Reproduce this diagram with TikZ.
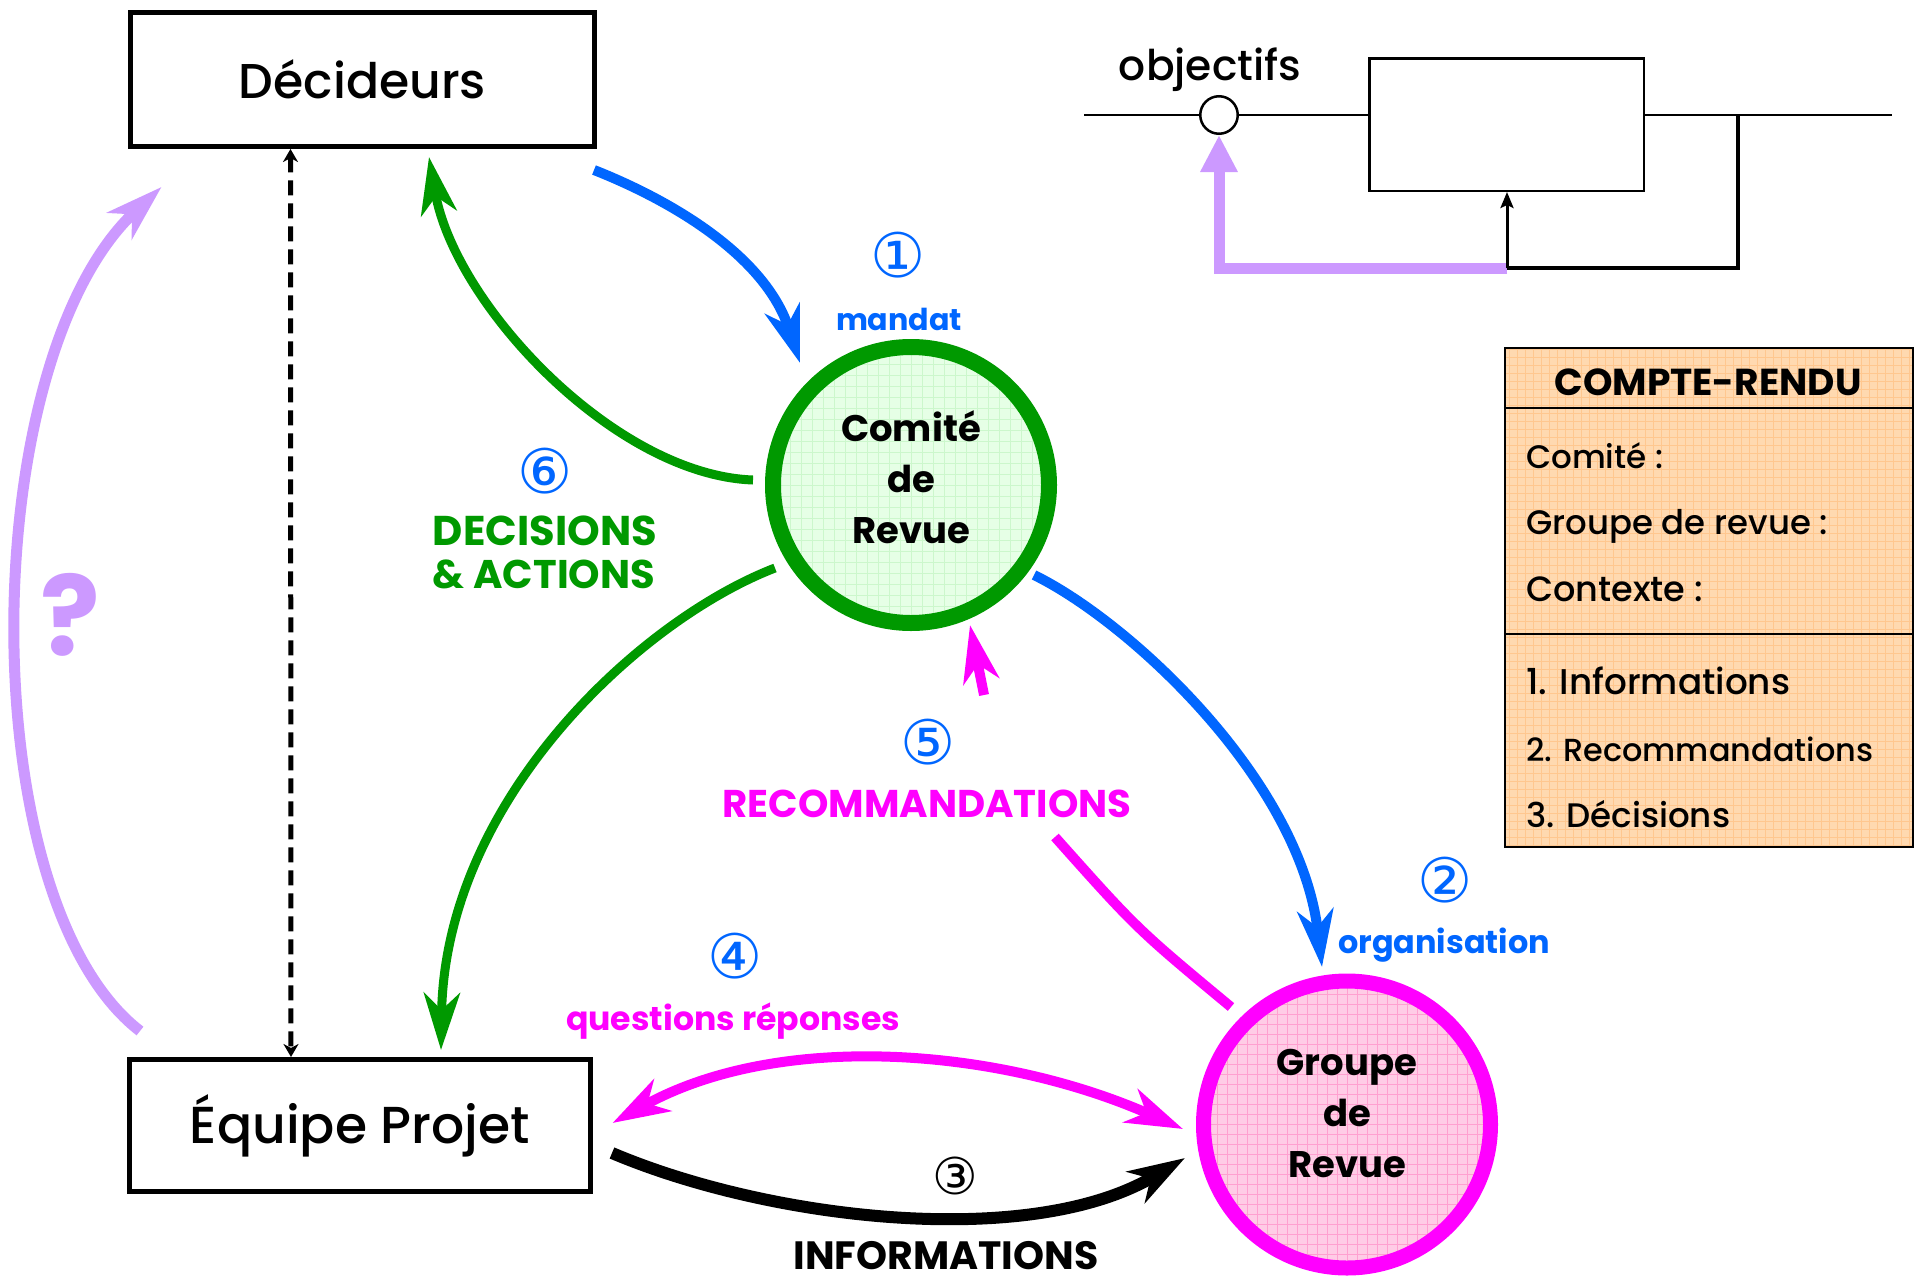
\documentclass[tikz,border=0pt]{standalone}
\usepackage{fontspec}
\usepackage{graphicx}
\setmainfont{Poppins}
\newfontfamily\medfont{Poppins Medium}
\newfontfamily\dvsym{DejaVu Sans}
\usetikzlibrary{arrows.meta,calc}
\definecolor{cblue}{HTML}{0066FF}
\definecolor{cgreen}{HTML}{009900}
\definecolor{cmag}{HTML}{FF00FF}
\definecolor{clav}{HTML}{CC99FF}
\definecolor{cgfill}{HTML}{E6FFE6}
\definecolor{cggrid}{HTML}{CCF7CC}
\definecolor{cpfill}{HTML}{FFCCE6}
\definecolor{cpgrid}{HTML}{FFA0D0}
\definecolor{cofill}{HTML}{FFD9B0}
\definecolor{cogrid}{HTML}{FFC78F}
\newcommand\fitw[2]{\resizebox{#1pt}{!}{#2}}
\newcommand\circnum[2]{\resizebox*{!}{#1pt}{\dvsym #2}}
\begin{document}
\begin{tikzpicture}[x=1pt,y=-1pt,
  boxst/.style={draw, line width=5pt, fill=white, inner sep=0pt},
  lbl/.style={inner sep=0pt, anchor=base},
  num/.style={inner sep=0pt, anchor=center, text=cblue},
  gridpic/.style 2 args={path picture={\draw[#1, line width=0.6pt, step=#2] (path picture bounding box.south west) grid (path picture bounding box.north east);}},
  bigarrow/.style={-{Stealth[length=57pt,width=36pt,inset=17pt]}},
  dblarrow/.style={{Stealth[length=57pt,width=36pt,inset=17pt]}-{Stealth[length=57pt,width=36pt,inset=17pt]}},
  blueline/.style={draw=cblue, line width=10pt, bigarrow},
  greenline/.style={draw=cgreen, line width=9pt, bigarrow},
  magline/.style={draw=cmag, line width=10pt},
  blackline/.style={draw=black, line width=12pt, bigarrow},
  lavline/.style={draw=clav, line width=11pt, bigarrow},
  dashedarrow/.style={draw=black, line width=5pt, dash pattern=on 15pt off 8pt,
     {Stealth[length=13pt,width=15pt,inset=4pt]}-{Stealth[length=13pt,width=15pt,inset=4pt]}},
  circtxt/.style={inner sep=0pt, align=center, font=\bfseries\fontsize{37}{51}\selectfont}
]
\fill[white] (0,0) rectangle (1923,1285);
\useasboundingbox (0,0) rectangle (1923,1285);

% ---------- main boxes
\node[boxst, minimum width=464pt, minimum height=134pt] (dec) at (362.5,79.5) {\fitw{247}{\medfont Décideurs}};
\node[boxst, minimum width=461pt, minimum height=132pt] (equipe) at (360,1125.5) {\fitw{340}{\medfont Équipe Projet}};

% ---------- circles
\node[circle, draw=cgreen, line width=16pt, fill=cgfill, minimum size=276pt, inner sep=0pt,
      gridpic={cggrid}{11pt}] (comite) at (911,485) {};
\node[circtxt] (comitetxt) at (911,477) {Comité\\de\\Revue};
\node[circle, draw=cmag, line width=15pt, fill=cpfill, minimum size=287pt, inner sep=0pt,
      gridpic={cpgrid}{10pt}] (groupe) at (1347,1124.5) {};
\node[circtxt] (groupetxt) at (1347,1113) {Groupe\\de\\Revue};

% ---------- connectors
\draw[dashedarrow] ($(dec.south west)+(162.5,0)$) -- ($(equipe.north west)+(164,0)$);

\draw[blueline] ($(dec.south east)+(-3,21)$) .. controls (670,200) and (765,255) .. ($(comite.center)+(-111,-122)$);
\draw[blueline] ($(comite.center)+(123,90)$) .. controls (1130,622) and (1300,780) .. ($(groupe.center)+(-25,-157.5)$);

\draw[blackline] ($(equipe.east)+(19,27.5)$) .. controls (770,1220) and (1030,1250) .. ($(groupe.west)+(-11,33.5)$);
\draw[magline, dblarrow] ($(equipe.east)+(19.5,-2.5)$) .. controls (780,1030) and (1000,1048) .. ($(groupe.west)+(-13,4.5)$);

\coordinate (recA) at (1055,837);
\coordinate (recB) at (984,695);
\draw[magline] ($(groupe.center)+(-116,-117.5)$) .. controls (1137,929) .. (recA);
\draw[magline, bigarrow] (recB) -- ($(comite.center)+(59,140)$);

\draw[greenline] ($(comite.center)+(-158,-5)$) .. controls (615,475) and (455,305) .. ($(dec.south)+(66.5,8)$);
\draw[greenline] ($(comite.center)+(-136,83)$) .. controls (640,620) and (445,800) .. ($(equipe.north)+(81,-7)$);

\draw[lavline] ($(equipe.north west)+(13,-26)$) .. controls (-30,900) and (-25,360) .. ($(dec.south west)+(33.5,38)$);

% ---------- labels
\node[num] (n1) at (898.5,255) {\circnum{46}{①}};
\node[lbl, text=cblue] (lmandat) at (899,330) {\fitw{126}{\bfseries mandat}};
\node[num] (n2) at (1445,880) {\circnum{46}{②}};
\node[lbl, text=cblue] (lorg) at (1444,953) {\fitw{212}{\bfseries organisation}};
\node[num, text=black] (n3) at (955,1176) {\circnum{38}{③}};
\node[lbl] (linfo) at (946,1269) {\fitw{305}{\bfseries INFORMATIONS}};
\node[num] (n4) at (735,956) {\circnum{46}{④}};
\node[lbl, text=cmag] (lqr) at (733,1030) {\fitw{334}{\bfseries questions réponses}};
\node[num] (n5) at (928.5,742) {\circnum{46}{⑤}};
\node[lbl, text=cmag] (lreco) at (927,817) {\fitw{409}{\bfseries RECOMMANDATIONS}};
\node[num] (n6) at (545,471) {\circnum{46}{⑥}};
\node[lbl, text=cgreen] (ldec1) at (545,545) {\fitw{224}{\bfseries DECISIONS}};
\node[lbl, text=cgreen] (ldec2) at (544,588) {\fitw{222}{\bfseries \& ACTIONS}};
\node[inner sep=0pt, text=clav] (qm) at (70,615) {\resizebox*{!}{83pt}{\bfseries ?}};

% ---------- control loop (top right)
\node[circle, draw, line width=2.5pt, fill=white, minimum size=37.5pt, inner sep=0pt] (sum) at (1219,115) {};
\node[draw, line width=2.5pt, minimum width=274.5pt, minimum height=132.5pt, inner sep=0pt] (plant) at (1506.5,124.5) {};
\coordinate (inL) at (1084,115);
\coordinate (outR) at (1892,115);
\coordinate (tap) at (1738,115);
\coordinate (tapB) at (1738,268);
\coordinate (fbB) at (1507,268);
\coordinate (fbL) at (1219,268);
\draw[line width=2.5pt] (inL) -- (sum.west);
\draw[line width=2.5pt] (sum.east) -- (sum.east -| plant.west);
\draw[line width=2.5pt] (plant.east |- sum.east) -- (outR);
\draw[line width=4pt] (tap) -- (tapB) -- (fbB);
\draw[clav, line width=11pt, -{Triangle[length=37pt,width=35pt]}] (fbB) -- (fbL) -- (sum.south);
\draw[line width=3pt, -{Stealth[length=16pt,width=13pt,inset=3pt]}] (fbB) -- (fbB |- plant.south);
\node[lbl] (lobj) at (1210,80) {\fitw{182}{\medfont objectifs}};

% ---------- compte-rendu
\node[draw, line width=2.5pt, fill=cofill, minimum width=408pt, minimum height=499pt, inner sep=0pt,
      gridpic={cogrid}{8pt}] (cr) at (1709,597.5) {};
\draw[line width=2.5pt] ($(cr.north west)+(0,61)$) -- ($(cr.north east)+(0,61)$);
\draw[line width=2.5pt] ($(cr.north west)+(0,287)$) -- ($(cr.north east)+(0,287)$);
\node[lbl] (crt) at (1708,395) {\fitw{307}{\bfseries COMPTE-RENDU}};
\node[lbl, anchor=base west] (cr1) at (1526,468) {\fitw{137}{\medfont Comité :}};
\node[lbl, anchor=base west] (cr2) at (1526,534) {\fitw{302}{\medfont Groupe de revue :}};
\node[lbl, anchor=base west] (cr3) at (1526,601) {\fitw{177}{\medfont Contexte :}};
\node[lbl, anchor=base west] (cr4) at (1526,694) {\fitw{264}{\medfont 1. Informations}};
\node[lbl, anchor=base west] (cr5) at (1526,761) {\fitw{347}{\medfont 2. Recommandations}};
\node[lbl, anchor=base west] (cr6) at (1526,827) {\fitw{204}{\medfont 3. Décisions}};
\end{tikzpicture}
\end{document}
